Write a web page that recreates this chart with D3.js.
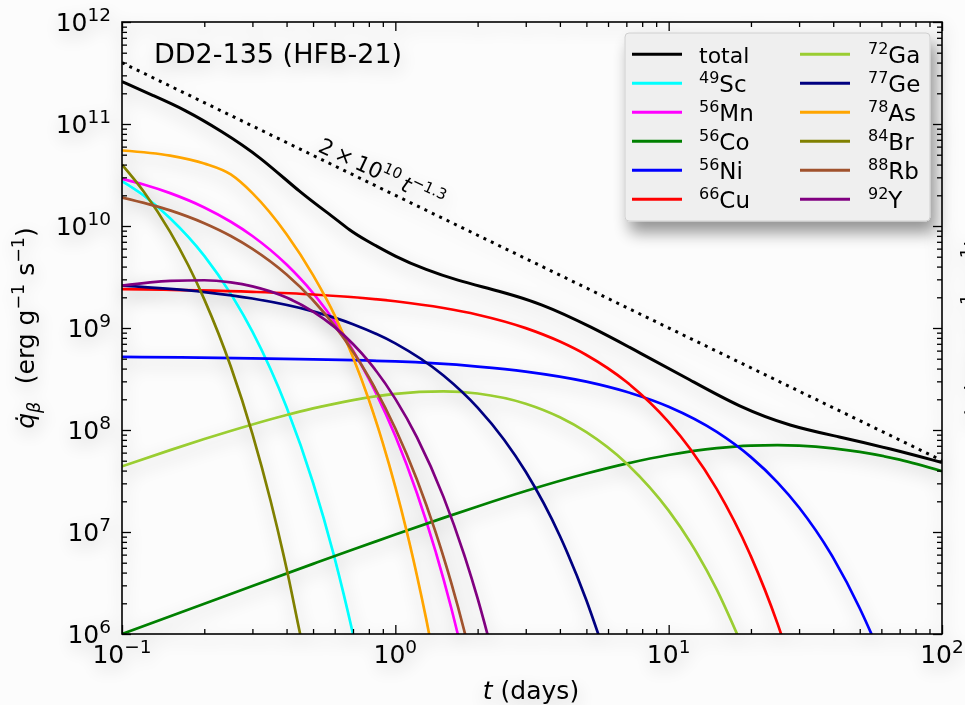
<!DOCTYPE html>
<html>
<head>
<meta charset="utf-8">
<script src="https://cdn.jsdelivr.net/npm/d3@7"></script>
<style>
  body { margin: 0; background: #fcfcfc; }
  svg { display: block; font-family: "DejaVu Sans", sans-serif; }
</style>
</head>
<body>
<div class="container"></div>
<script>
// values (t in days, q in erg/g/s)
const tTotal = [0.1, 0.13, 0.17, 0.23, 0.32, 0.45, 0.6, 0.68, 0.77, 1.0, 1.3, 1.66, 2.4, 3.4, 5.2, 7.9, 12, 18, 28, 42, 64, 100];
const qTotal = [2.6e11, 1.9e11, 1.38e11, 8.6e10, 4.8e10, 2.1e10, 1.2e10, 9.1e9, 7.4e9, 5.0e9, 3.7e9, 2.96e9, 2.3e9, 1.75e9, 1.03e9, 5.65e8, 3.09e8, 1.69e8, 1.08e8, 8.6e7, 6.6e7, 4.8e7];

const tSc = [0.1, 0.12, 0.15, 0.2, 0.25, 0.3, 0.4, 0.5, 0.6, 0.7, 0.75];
const qSc = [2.75e10, 1.99e10, 1.19e10, 5.09e9, 2.16e9, 9.22e8, 1.67e8, 3.04e7, 5.52e6, 1.0e6, 4.3e5];

const tMn = [0.1, 0.12, 0.15, 0.2, 0.25, 0.3, 0.4, 0.5, 0.6, 0.7, 0.8, 1.0, 1.2, 1.4, 1.6, 1.8];
const qMn = [2.9e10, 2.55e10, 2.1e10, 1.52e10, 1.10e10, 7.98e9, 4.19e9, 2.2e9, 1.15e9, 6.04e8, 3.17e8, 8.72e7, 2.40e7, 6.6e6, 1.82e6, 5.0e5];

const tCo = [0.1, 0.2, 0.3, 0.5, 0.7, 1, 1.5, 2, 3, 5, 7, 10, 15, 20, 25, 30, 40, 50, 70, 100];
const qCo = [1.0e6, 1.98e6, 2.96e6, 4.87e6, 6.74e6, 9.45e6, 1.376e7, 1.78e7, 2.52e7, 3.74e7, 4.68e7, 5.69e7, 6.64e7, 7.03e7, 7.11e7, 7.02e7, 6.60e7, 6.10e7, 5.12e7, 3.95e7];

const tNi = [0.1, 1, 2, 3, 5, 7, 10, 15, 20, 25, 30, 40, 50, 55, 60];
const qNi = [5.2e8, 4.7e8, 4.19e8, 3.74e8, 2.98e8, 2.37e8, 1.69e8, 9.57e7, 5.42e7, 3.07e7, 1.74e7, 5.58e6, 1.79e6, 1.02e6, 5.75e5];

const tCu = [0.1, 0.3, 0.5, 1, 1.5, 2, 3, 4, 5, 7, 10, 12, 15, 20, 25, 27];
const qCu = [2.4e9, 2.26e9, 2.13e9, 1.83e9, 1.57e9, 1.35e9, 9.97e8, 7.36e8, 5.44e8, 2.97e8, 1.195e8, 6.52e7, 2.63e7, 5.77e6, 1.27e6, 6.9e5];

const tGa = [0.1, 0.15, 0.2, 0.3, 0.4, 0.5, 0.7, 1, 1.5, 2, 3, 4, 5, 7, 10, 12, 15, 18];
const qGa = [4.4e7, 6.35e7, 8.15e7, 1.133e8, 1.402e8, 1.627e8, 1.966e8, 2.264e8, 2.393e8, 2.279e8, 1.809e8, 1.331e8, 9.52e7, 4.72e7, 1.62e7, 7.94e6, 2.72e6, 9.3e5];

const tGe = [0.1, 0.2, 0.3, 0.5, 0.7, 1, 1.5, 2, 2.5, 3, 4, 5, 5.6];
const qGe = [2.6e9, 2.25e9, 1.946e9, 1.456e9, 1.09e9, 7.06e8, 3.42e8, 1.656e8, 8.02e7, 3.89e7, 9.13e6, 2.14e6, 9.0e5];

const tAs = [0.1, 0.15, 0.2, 0.25, 0.3, 0.4, 0.5, 0.6, 0.7, 0.8, 0.9, 1.0, 1.1, 1.2, 1.3, 1.4];
const qAs = [5.5e10, 4.9e10, 4.1e10, 3.2e10, 2.1e10, 8.3e9, 3.3e9, 1.33e9, 5.16e8, 1.98e8, 7.45e7, 2.77e7, 1.02e7, 3.73e6, 1.36e6, 4.9e5];

const tBr = [0.1, 0.12, 0.15, 0.2, 0.25, 0.3, 0.35, 0.4, 0.45, 0.46];
const qBr = [4.0e10, 2.18e10, 8.75e9, 1.91e9, 4.19e8, 9.16e7, 2.0e7, 4.38e6, 9.6e5, 7.3e5];

const tRb = [0.1, 0.15, 0.2, 0.25, 0.3, 0.4, 0.5, 0.6, 0.7, 0.8, 1.0, 1.2, 1.4, 1.6, 1.8, 1.9];
const qRb = [1.9e10, 1.422e10, 1.064e10, 7.97e9, 5.96e9, 3.34e9, 1.872e9, 1.049e9, 5.87e8, 3.29e8, 1.034e8, 3.25e7, 1.02e7, 3.2e6, 1.0e6, 5.6e5];

const tY = [0.1, 0.15, 0.2, 0.25, 0.3, 0.4, 0.5, 0.6, 0.7, 0.8, 1.0, 1.2, 1.5, 1.8, 2.0, 2.2];
const qY = [2.6e9, 2.9e9, 2.94e9, 2.8e9, 2.56e9, 1.99e9, 1.45e9, 1.02e9, 6.97e8, 4.68e8, 2.02e8, 8.47e7, 2.21e7, 5.6e6, 2.23e6, 8.8e5];

// power-law guide 2e10 t^-1.3, end points
const tRef = [0.1, 100];
const qRef = [3.99e11, 5.02e7];

const massNumbers = ["", "49", "56", "56", "56", "66", "72", "77", "78", "84", "88", "92"];
const symbols = ["total", "Sc", "Mn", "Co", "Ni", "Cu", "Ga", "Ge", "As", "Br", "Rb", "Y"];
const colours = ["black", "cyan", "magenta", "green", "blue", "red", "yellowgreen", "navy", "orange", "olive", "sienna", "purple"];

const tList = [tTotal, tSc, tMn, tCo, tNi, tCu, tGa, tGe, tAs, tBr, tRb, tY];
const qList = [qTotal, qSc, qMn, qCo, qNi, qCu, qGa, qGe, qAs, qBr, qRb, qY];

const xMajor = [0.1, 1, 10, 100];
const yMajor = [1e6, 1e7, 1e8, 1e9, 1e10, 1e11, 1e12];

const W = 965, H = 705;
const pLeft = 122, pRight = 942, pTop = 22, pBottom = 634;

const svg = d3.select(".container").append("svg")
    .attr("width", W).attr("height", H);

const defs = svg.append("defs");
const soft = defs.append("filter").attr("id", "soft")
    .attr("x", "-20%").attr("y", "-20%").attr("width", "140%").attr("height", "140%");
soft.append("feGaussianBlur").attr("in", "SourceAlpha").attr("stdDeviation", 9);
soft.append("feOffset").attr("dx", 1).attr("dy", 6);
soft.append("feComponentTransfer").append("feFuncA").attr("type", "linear").attr("slope", 0.24);
const m1 = soft.append("feMerge");
m1.append("feMergeNode");
m1.append("feMergeNode").attr("in", "SourceGraphic");

const lshadow = defs.append("filter").attr("id", "lshadow")
    .attr("x", "-20%").attr("y", "-20%").attr("width", "150%").attr("height", "160%");
lshadow.append("feGaussianBlur").attr("in", "SourceAlpha").attr("stdDeviation", 8);
lshadow.append("feOffset").attr("dx", 5).attr("dy", 11);
lshadow.append("feComponentTransfer").append("feFuncA").attr("type", "linear").attr("slope", 0.42);
const m2 = lshadow.append("feMerge");
m2.append("feMergeNode");
m2.append("feMergeNode").attr("in", "SourceGraphic");

defs.append("clipPath").attr("id", "plotclip")
    .append("rect").attr("x", pLeft).attr("y", pTop)
    .attr("width", pRight - pLeft).attr("height", pBottom - pTop);

const xScale = d3.scaleLog().domain([0.1, 100]).range([pLeft, pRight]);
const yScale = d3.scaleLog().domain([1e6, 1e12]).range([pBottom, pTop]);

const g = svg.append("g").attr("filter", "url(#soft)");

// curves
const line = d3.line()
    .x(d => xScale(d[0]))
    .y(d => yScale(d[1]))
    .curve(d3.curveMonotoneX);
const smooth = d3.line()
    .x(d => xScale(d[0]))
    .y(d => yScale(d[1]))
    .curve(d3.curveBasis);

const curves = g.append("g").attr("clip-path", "url(#plotclip)");
tList.forEach((ts, i) => {
    curves.append("path")
        .datum(ts.map((t, k) => [t, qList[i][k]]))
        .attr("fill", "none")
        .attr("stroke", colours[i])
        .attr("stroke-width", i === 0 ? 3 : 2.7)
        .attr("d", i === 0 ? smooth : line);
});
curves.append("path")
    .datum(tRef.map((t, k) => [t, qRef[k]]))
    .attr("fill", "none")
    .attr("stroke", "black")
    .attr("stroke-width", 3)
    .attr("stroke-dasharray", "3,5.2")
    .attr("d", d3.line().x(d => xScale(d[0])).y(d => yScale(d[1])));

// ticks, inward on all four sides
const xAll = xScale.ticks();
const yAll = yScale.ticks();
const isMajor = v => Math.abs(Math.log10(v) - Math.round(Math.log10(v))) < 1e-9;
const xMinor = xAll.filter(v => !isMajor(v));
const yMinor = yAll.filter(v => !isMajor(v));

function ticks(axisFn, scale, vals, len, transform) {
    const a = g.append("g").attr("transform", transform)
        .call(axisFn(scale).tickValues(vals).tickSizeInner(-len).tickSizeOuter(0).tickFormat(""));
    a.select(".domain").remove();
    a.selectAll(".tick line").attr("stroke", "black").attr("stroke-width", 1.3);
}
ticks(d3.axisBottom, xScale, xMajor, 9, `translate(0,${pBottom})`);
ticks(d3.axisBottom, xScale, xMinor, 5, `translate(0,${pBottom})`);
ticks(d3.axisTop, xScale, xMajor, 9, `translate(0,${pTop})`);
ticks(d3.axisTop, xScale, xMinor, 5, `translate(0,${pTop})`);
ticks(d3.axisLeft, yScale, yMajor, 9, `translate(${pLeft},0)`);
ticks(d3.axisLeft, yScale, yMinor, 5, `translate(${pLeft},0)`);
ticks(d3.axisRight, yScale, yMajor, 9, `translate(${pRight},0)`);
ticks(d3.axisRight, yScale, yMinor, 5, `translate(${pRight},0)`);

g.append("rect")
    .attr("x", pLeft).attr("y", pTop)
    .attr("width", pRight - pLeft).attr("height", pBottom - pTop)
    .attr("fill", "none").attr("stroke", "black").attr("stroke-width", 1.6);

// tick labels with superscripts
function pow10(text, v) {
    const e = Math.round(Math.log10(v));
    text.append("tspan").text("10");
    text.append("tspan").attr("font-size", 18.5).attr("dy", -10)
        .text(String(e).replace("-", "\u2212"));
}
xMajor.forEach(v => {
    const t = g.append("text")
        .attr("x", xScale(v)).attr("y", 663)
        .attr("text-anchor", "middle").attr("font-size", 25);
    pow10(t, v);
});
yMajor.forEach(v => {
    const t = g.append("text")
        .attr("x", 111).attr("y", yScale(v) + 9.3)
        .attr("text-anchor", "end").attr("font-size", 25);
    pow10(t, v);
});

// axis titles
const xl = g.append("text").attr("x", 531).attr("y", 699)
    .attr("text-anchor", "middle").attr("font-size", 25);
xl.append("tspan").attr("font-style", "italic").text("t");
xl.append("tspan").text(" (days)");

function yLabel(xpos, ypos, sub) {
    const yl = g.append("text")
        .attr("transform", `translate(${xpos},${ypos}) rotate(-90)`)
        .attr("text-anchor", "middle").attr("font-size", 25);
    yl.append("tspan").attr("font-style", "italic").text("q\u0307");
    if (sub) {
        yl.append("tspan").attr("font-style", "italic").attr("font-size", 17.5).attr("dy", 6).text("\u03b2");
        yl.append("tspan").attr("dy", -6).text("\u2002\u2009(erg g");
    } else {
        yl.append("tspan").text("\u2002(erg g");
    }
    yl.append("tspan").attr("font-size", 17.5).attr("dy", -10).text("\u22121");
    yl.append("tspan").attr("dy", 10).text(" s");
    yl.append("tspan").attr("font-size", 17.5).attr("dy", -10).text("\u22121");
    yl.append("tspan").attr("dy", 10).text(")");
}
yLabel(34, 328, true);
yLabel(983, 330, false);

// panel title
g.append("text").attr("x", 154).attr("y", 63)
    .attr("font-size", 27).text("DD2-135 (HFB-21)");

// power-law label
const pl = g.append("text")
    .attr("transform", "translate(317,151) rotate(25)")
    .attr("font-size", 21.5);
pl.append("tspan").text("2\u2009\u00d7\u200910");
pl.append("tspan").attr("font-size", 15).attr("dy", -9).text("10");
pl.append("tspan").attr("font-style", "italic").attr("dy", 9).text("\u2009t");
pl.append("tspan").attr("font-size", 15).attr("dy", -9).text("\u22121.3");

// legend
const lg = svg.append("g");
lg.append("rect")
    .attr("x", 625).attr("y", 33).attr("width", 305).attr("height", 188)
    .attr("rx", 4).attr("fill", "#efefef").attr("stroke", "#cfcfcf").attr("stroke-width", 1)
    .attr("filter", "url(#lshadow)");
symbols.forEach((s, i) => {
    const col = i < 6 ? 0 : 1;
    const row = i % 6;
    const x0 = col === 0 ? 632 : 800;
    const tx = col === 0 ? 699 : 868;
    const ly = 54.3 + row * 29;
    lg.append("line")
        .attr("x1", x0).attr("x2", x0 + 50).attr("y1", ly).attr("y2", ly)
        .attr("stroke", colours[i]).attr("stroke-width", 3);
    const t = lg.append("text").attr("x", tx).attr("y", ly + 9).attr("font-size", 23);
    if (massNumbers[i]) {
        t.append("tspan").attr("font-size", 16).attr("dy", -9).text(massNumbers[i]);
        t.append("tspan").attr("dy", 9).text(s);
    } else {
        t.append("tspan").attr("font-size", 22).text(s);
    }
});
</script>
</body>
</html>
